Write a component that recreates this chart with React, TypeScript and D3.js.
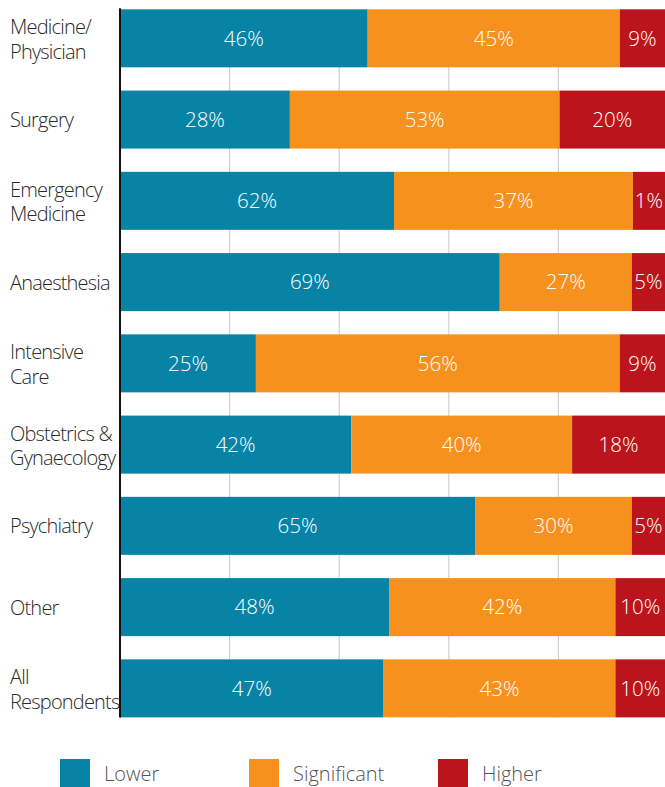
import React from "react";
import * as d3 from "d3";

const categories = [
  "Medicine/\nPhysician",
  "Surgery",
  "Emergency\nMedicine",
  "Anaesthesia",
  "Intensive\nCare",
  "Obstetrics &\nGynaecology",
  "Psychiatry",
  "Other",
  "All\nRespondents",
];
const seriesNames = ["Lower", "Significant", "Higher"];
const colors = ["#0784a5", "#f7911e", "#bb141c"];
// bar shares as drawn in the reference
const lowerShare = [45.2, 31.0, 50.0, 69.3, 24.8, 42.2, 64.8, 49.1, 48.1];
const significantShare = [46.0, 49.2, 43.6, 24.1, 66.4, 40.3, 28.6, 41.3, 42.3];
const higherShare = [8.8, 19.8, 6.4, 6.6, 8.8, 17.5, 6.6, 9.6, 9.6];
// printed labels
const lowerLabel = [46, 28, 62, 69, 25, 42, 65, 48, 47];
const significantLabel = [45, 53, 37, 27, 56, 40, 30, 42, 43];
const higherLabel = [9, 20, 1, 5, 9, 18, 5, 10, 10];
const gridTicks = [20, 40, 60, 80];

const W = 665;
const H = 787;

export default function App() {
  const x = d3.scaleLinear().domain([0, 100]).range([120, 668]);
  const y = d3
    .scaleBand<number>()
    .domain(d3.range(categories.length))
    .range([-2.3, 729])
    .paddingInner(0.286)
    .paddingOuter(0.143);
  const shares = [lowerShare, significantShare, higherShare];
  const labels = [lowerLabel, significantLabel, higherLabel];
  const font = "'Open Sans', 'Noto Sans', sans-serif";
  return (
    <div style={{ position: "absolute", left: 0, top: 0 }}>
      <svg width={W} height={H} style={{ display: "block" }}>
        {gridTicks.map((t) => (
          <line
            key={t}
            x1={x(t)}
            x2={x(t)}
            y1={y(0)!}
            y2={y(categories.length - 1)! + y.bandwidth()}
            stroke="#d0d0d0"
            strokeWidth={1.2}
          />
        ))}
        {categories.map((c, i) => {
          let acc = 0;
          const segs = shares.map((s, k) => {
            const x0 = acc;
            acc += s[i];
            return { k, x0, x1: acc };
          });
          const lines = c.split("\n");
          const cy = y(i)! + y.bandwidth() / 2;
          return (
            <g key={c}>
              {segs.map((sg) => {
                const left = x(sg.x0);
                const right = Math.min(x(sg.x1), W);
                return (
                  <g key={sg.k}>
                    <rect
                      x={left}
                      y={y(i)!}
                      width={right - left}
                      height={y.bandwidth()}
                      fill={colors[sg.k]}
                    />
                    <text
                      x={(left + right) / 2}
                      y={cy}
                      dy="0.36em"
                      textAnchor="middle"
                      fill="#ffffff"
                      fontFamily={font}
                      fontWeight={300}
                      fontSize={20.5}
                    >
                      {labels[sg.k][i]}%
                    </text>
                  </g>
                );
              })}
              <text
                fill="#2a2a2a"
                fontFamily={font}
                fontWeight={300}
                fontSize={20}
                letterSpacing={-0.8}
              >
                {lines.map((l, j) => (
                  <tspan
                    key={j}
                    x={10}
                    y={lines.length === 1 ? cy + 7.5 : cy - 4 + j * 24.5}
                  >
                    {l}
                  </tspan>
                ))}
              </text>
            </g>
          );
        })}
        <line
          x1={120}
          x2={120}
          y1={y(0)! - 1}
          y2={y(categories.length - 1)! + y.bandwidth()}
          stroke="#111"
          strokeWidth={2}
        />
        {seriesNames.map((n, k) => {
          const lx = [60, 249, 438][k];
          return (
            <g key={n}>
              <rect x={lx} y={759} width={30} height={30} fill={colors[k]} />
              <text
                x={lx + 44}
                y={781}
                fill="#555"
                fontFamily={font}
                fontWeight={300}
                fontSize={20}
              >
                {n}
              </text>
            </g>
          );
        })}
      </svg>
    </div>
  );
}
